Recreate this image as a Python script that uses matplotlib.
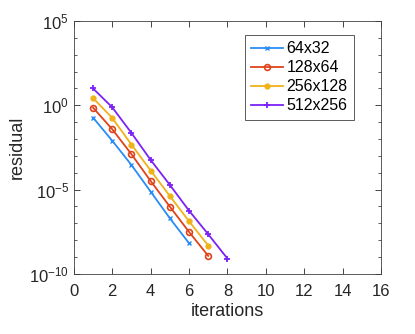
import numpy as np
import matplotlib
matplotlib.use('Agg')
import matplotlib.pyplot as plt
from matplotlib.ticker import FixedLocator, NullFormatter

plt.rcParams['font.family'] = ['Liberation Sans', 'DejaVu Sans']

# residual exponents (log10)
labels = ['64x32', '128x64', '256x128', '512x256']
it_64 = [1, 2, 3, 4, 5, 6]
res_64 = [-0.73, -2.1, -3.54, -5.12, -6.7, -8.18]
it_128 = [1, 2, 3, 4, 5, 6, 7]
res_128 = [-0.14, -1.42, -2.9, -4.49, -6.01, -7.51, -8.93]
it_256 = [1, 2, 3, 4, 5, 6, 7]
res_256 = [0.43, -0.75, -2.33, -3.87, -5.38, -6.88, -8.32]
it_512 = [1, 2, 3, 4, 5, 6, 7, 8]
res_512 = [1.0, -0.12, -1.64, -3.24, -4.72, -6.25, -7.65, -9.09]

fig = plt.figure(figsize=(4.15, 3.34), dpi=100)
ax = fig.add_axes([0.178, 0.180, 0.740, 0.757])

ax.semilogy(it_64, 10.0 ** np.array(res_64), 'x', ls='-', color='#2a8cf5', lw=1.3, ms=3.5, mew=1, label=labels[0])
ax.semilogy(it_128, 10.0 ** np.array(res_128), 'o', ls='-', color='#e0421a', lw=1.3, ms=4.2, mfc='none', mew=1.2, label=labels[1])
ax.semilogy(it_256, 10.0 ** np.array(res_256), '.', ls='-', color='#f0b21b', lw=1.3, ms=7, label=labels[2])
ax.semilogy(it_512, 10.0 ** np.array(res_512), '+', ls='-', color='#7b22f5', lw=1.3, ms=4.5, mew=1.3, label=labels[3])

ax.set_xlim(0, 16)
ax.set_ylim(1e-10, 1e5)
ax.set_xticks(range(0, 17, 2))
ax.set_yticks([1e-10, 1e-5, 1e0, 1e5])
ax.yaxis.set_minor_locator(FixedLocator([10.0 ** k for k in range(-10, 6)]))
ax.yaxis.set_minor_formatter(NullFormatter())

for s in ax.spines.values():
    s.set_color('#404040')
    s.set_linewidth(0.6)
ax.tick_params(which='both', direction='in', top=True, right=True, color='#404040', width=0.6)
ax.tick_params(which='major', length=4, labelsize=12, colors='#262626')
ax.tick_params(axis='x', which='major', pad=7)
ax.tick_params(which='minor', length=2.5)

ax.set_xlabel('iterations', fontsize=13, color='#262626', labelpad=3)
ax.set_ylabel('residual', fontsize=13, color='#262626', labelpad=2)

leg = ax.legend(loc='upper right', bbox_to_anchor=(0.912, 0.945), borderaxespad=0,
                fontsize=11.5, fancybox=False, framealpha=1, edgecolor='#404040',
                handlelength=2.0, handletextpad=0.2, borderpad=0.4, labelspacing=0.25)
leg.get_frame().set_linewidth(0.6)

fig.savefig('out.png', dpi=100)
